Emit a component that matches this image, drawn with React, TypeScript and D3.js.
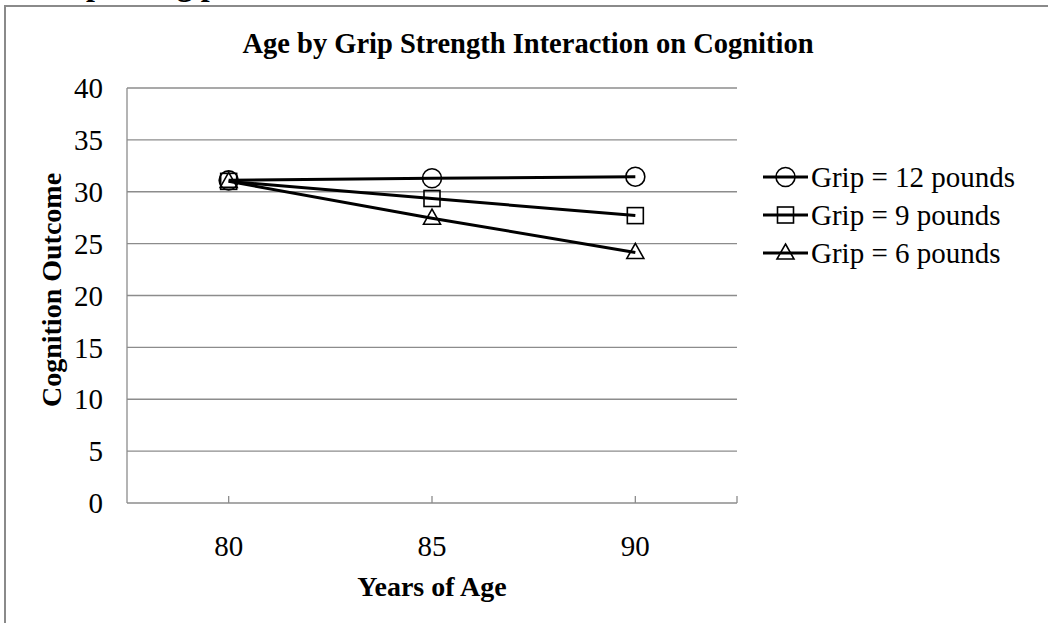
import React from "react";
import * as d3 from "d3";

const ages = ["80", "85", "90"];
const grip12 = [31.1, 31.3, 31.45];
const grip9 = [31.0, 29.35, 27.7];
const grip6 = [31.0, 27.45, 24.15];
const seriesNames = ["Grip = 12 pounds", "Grip = 9 pounds", "Grip = 6 pounds"];
const markerTypes = ["circle", "square", "triangle"];
const yTicks = [0, 5, 10, 15, 20, 25, 30, 35, 40];

const W = 1048;
const H = 623;
const plot = { left: 127, right: 737, top: 88, bottom: 503 };
const FONT = "'Liberation Serif', 'Times New Roman', serif";

function Marker({ type, x, y }: { type: string; x: number; y: number }) {
  const s = { fill: "none", stroke: "#000", strokeWidth: 1.6 };
  if (type === "circle") return <circle cx={x} cy={y} r={9.5} {...s} />;
  if (type === "square") return <rect x={x - 8} y={y - 8} width={16} height={16} {...s} />;
  return <path d={`M${x},${y - 9}L${x + 8.5},${y + 6}L${x - 8.5},${y + 6}Z`} {...s} />;
}

export default function App() {
  const x = d3.scaleBand().domain(ages).range([plot.left, plot.right]);
  const y = d3.scaleLinear().domain([0, 40]).range([plot.bottom, plot.top]);
  const cx = (a: string) => (x(a) as number) + x.bandwidth() / 2;
  const series = [grip12, grip9, grip6];
  const line = d3
    .line<number>()
    .x((_, i) => cx(ages[i]))
    .y((d) => y(d));
  const grid = "#8c8c8c";
  const tickXs = [...ages.map(cx), plot.right];
  const legendYs = [177, 215, 253];

  return (
    <svg width={W} height={H} style={{ display: "block", position: "absolute", left: 0, top: 0 }}>
      <rect x={0} y={0} width={W} height={H} fill="#fff" />
      <text x={86} y={-5} fontFamily={FONT} fontWeight="bold" fontSize={32}>
        plotting predicted values
      </text>
      <rect x={5} y={6} width={W + 20} height={H + 20} fill="none" stroke="#8a8a8a" strokeWidth={2} />
      <text x={528} y={53} textAnchor="middle" fontFamily={FONT} fontWeight="bold" fontSize={28.5}>
        Age by Grip Strength Interaction on Cognition
      </text>
      {yTicks.map((t) => (
        <g key={t}>
          {t > 0 && (
            <line x1={plot.left} x2={plot.right} y1={y(t)} y2={y(t)} stroke={grid} strokeWidth={1.3} />
          )}
          <text x={103} y={y(t)} dy="0.35em" textAnchor="end" fontFamily={FONT} fontSize={29}>
            {t}
          </text>
        </g>
      ))}
      <line x1={plot.left} x2={plot.left} y1={plot.top} y2={plot.bottom} stroke={grid} strokeWidth={1.3} />
      <line x1={plot.left} x2={plot.right} y1={plot.bottom} y2={plot.bottom} stroke={grid} strokeWidth={1.3} />
      {tickXs.map((tx, i) => (
        <line key={i} x1={tx} x2={tx} y1={plot.bottom} y2={plot.bottom - 7} stroke={grid} strokeWidth={1.3} />
      ))}
      {ages.map((a) => (
        <text key={a} x={cx(a)} y={546} dy="0.35em" textAnchor="middle" fontFamily={FONT} fontSize={29}>
          {a}
        </text>
      ))}
      <text x={432} y={596} textAnchor="middle" fontFamily={FONT} fontWeight="bold" fontSize={28}>
        Years of Age
      </text>
      <text
        transform={`translate(61,290) rotate(-90)`}
        textAnchor="middle"
        fontFamily={FONT}
        fontWeight="bold"
        fontSize={28}
      >
        Cognition Outcome
      </text>
      {series.map((s, k) => (
        <g key={k}>
          <path d={line(s) || ""} fill="none" stroke="#000" strokeWidth={3} />
          {s.map((v, i) => (
            <Marker key={i} type={markerTypes[k]} x={cx(ages[i])} y={y(v)} />
          ))}
        </g>
      ))}
      {seriesNames.map((n, k) => (
        <g key={n}>
          <line x1={763} x2={808} y1={legendYs[k]} y2={legendYs[k]} stroke="#000" strokeWidth={3} />
          <Marker type={markerTypes[k]} x={785.5} y={legendYs[k]} />
          <text x={811} y={legendYs[k]} dy="0.35em" fontFamily={FONT} fontSize={29}>
            {n}
          </text>
        </g>
      ))}
    </svg>
  );
}
